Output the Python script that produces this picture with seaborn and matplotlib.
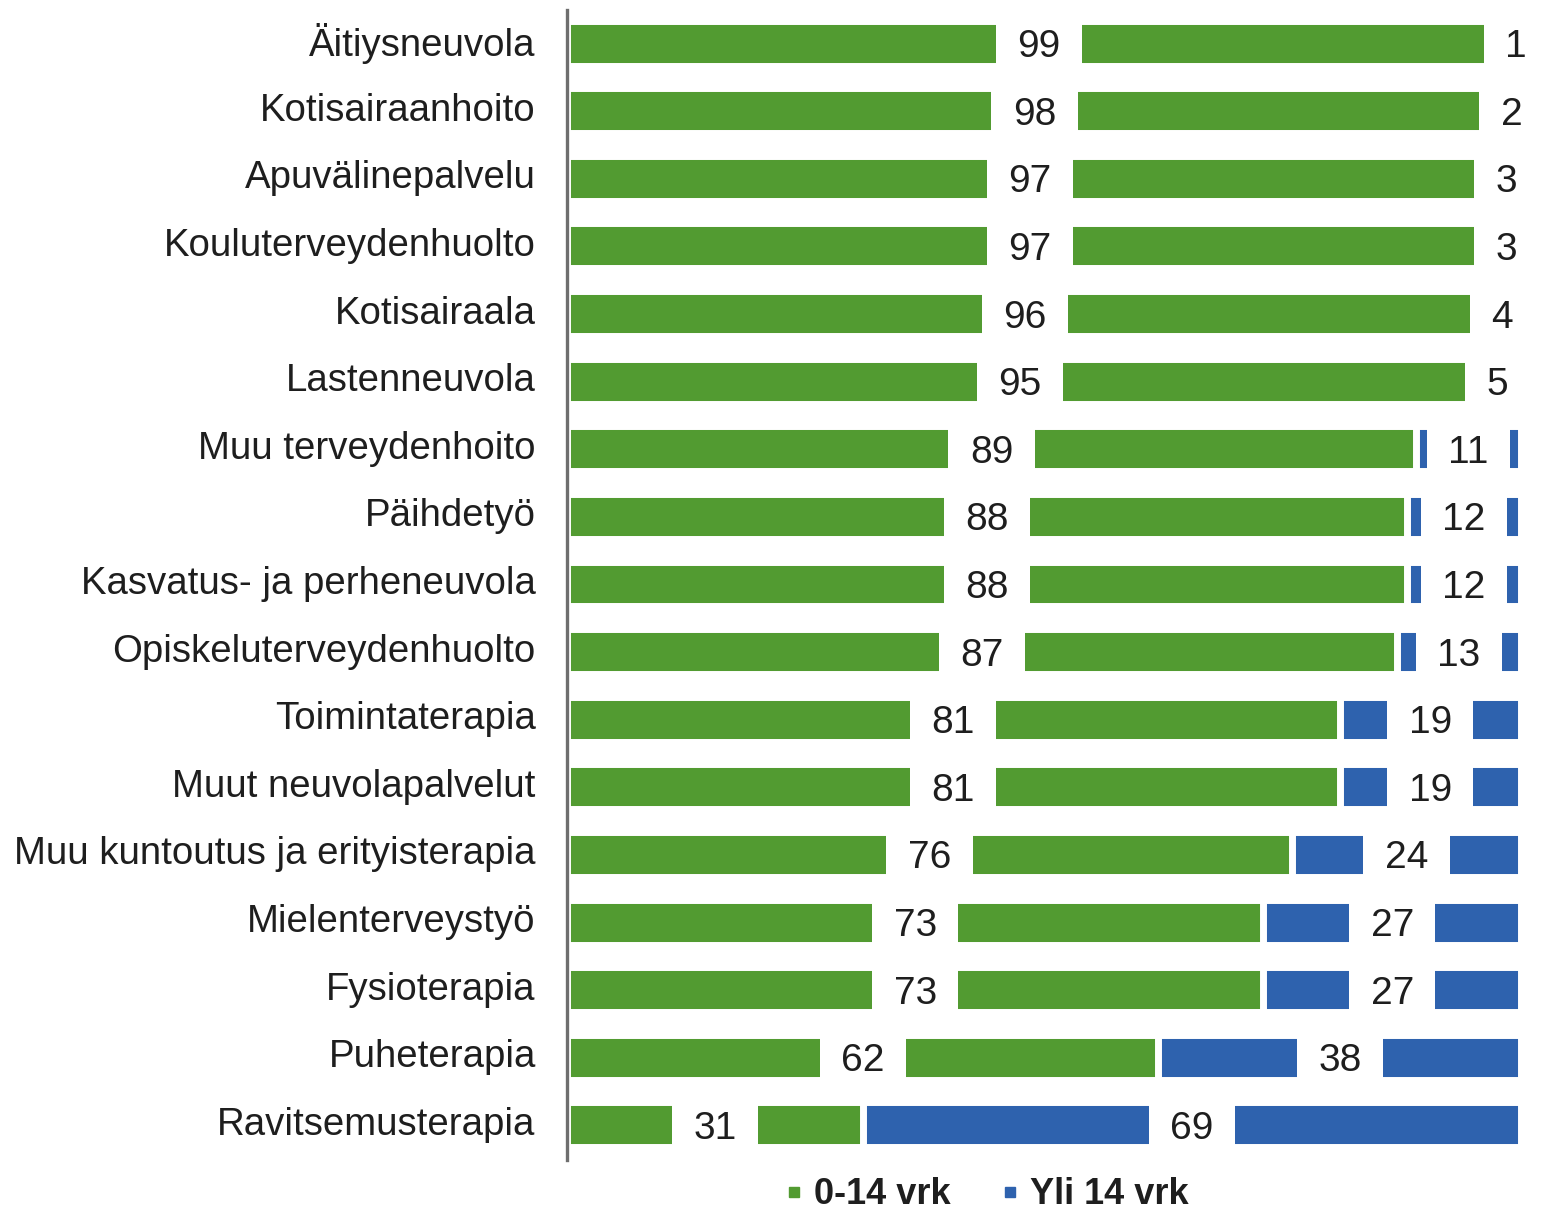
import matplotlib
matplotlib.use('Agg')
import matplotlib.pyplot as plt
import seaborn as sns
import pandas as pd
from matplotlib.lines import Line2D

categories = ["Äitiysneuvola", "Kotisairaanhoito", "Apuvälinepalvelu", "Kouluterveydenhuolto",
              "Kotisairaala", "Lastenneuvola", "Muu terveydenhoito", "Päihdetyö",
              "Kasvatus- ja perheneuvola", "Opiskeluterveydenhuolto", "Toimintaterapia",
              "Muut neuvolapalvelut", "Muu kuntoutus ja erityisterapia", "Mielenterveystyö",
              "Fysioterapia", "Puheterapia", "Ravitsemusterapia"]
within_14 = [99, 98, 97, 97, 96, 95, 89, 88, 88, 87, 81, 81, 76, 73, 73, 62, 31]
over_14 = [1, 2, 3, 3, 4, 5, 11, 12, 12, 13, 19, 19, 24, 27, 27, 38, 69]
series_names = ["0-14 vrk", "Yli 14 vrk"]

sns.set_theme(style='white')
plt.rcParams['font.family'] = ['Liberation Sans', 'DejaVu Sans']

df = pd.DataFrame({'cat': categories, 'short': within_14, 'long': over_14})
df['total'] = df['short'] + df['long']

GREEN = '#529B31'
BLUE = '#2E62AE'
TXT = '#1e1e1e'

fig = plt.figure(figsize=(15.52, 12.10), dpi=100)
ax = fig.add_axes([567/1552, 1-1160/1210, 954/1552, 1150/1210])

sns.barplot(data=df, y='cat', x='total', color=BLUE, orient='h', width=0.665,
            edgecolor='white', linewidth=5, saturation=1, ax=ax)
sns.barplot(data=df, y='cat', x='short', color=GREEN, orient='h', width=0.665,
            edgecolor='white', linewidth=5, saturation=1, ax=ax)

for i, (s, l) in enumerate(zip(within_14, over_14)):
    for xc, v in ((s / 2, s), (s + l / 2, l)):
        ax.text(xc, i, str(v), ha='center', va='center_baseline', fontsize=28, color=TXT,
                bbox=dict(boxstyle='square,pad=0.55', fc='white', ec='none'))

ax.set_xlim(0, 100)
ax.set_ylim(16.52, -0.49)
ax.set_xlabel('')
ax.set_ylabel('')
ax.set_xticks([])
ax.tick_params(axis='y', length=0, pad=22.5, labelsize=27.6, labelcolor=TXT)
for lbl in ax.get_yticklabels():
    lbl.set_va('center')
for side in ('top', 'right', 'bottom'):
    ax.spines[side].set_visible(False)
ax.spines['left'].set_color('#6e6e6e')
ax.spines['left'].set_linewidth(2.4)

handles = [Line2D([], [], marker='s', color=GREEN, ls='', markersize=7),
           Line2D([], [], marker='s', color=BLUE, ls='', markersize=7)]
fig.legend(handles, series_names, loc='center', bbox_to_anchor=(0.636, 0.0124), ncol=2,
           frameon=False, prop={'weight': 'bold', 'size': 26}, handlelength=0.5,
           handletextpad=0.3, columnspacing=1.4, labelcolor=TXT)

fig.savefig('out.png', dpi=100, facecolor='white')
